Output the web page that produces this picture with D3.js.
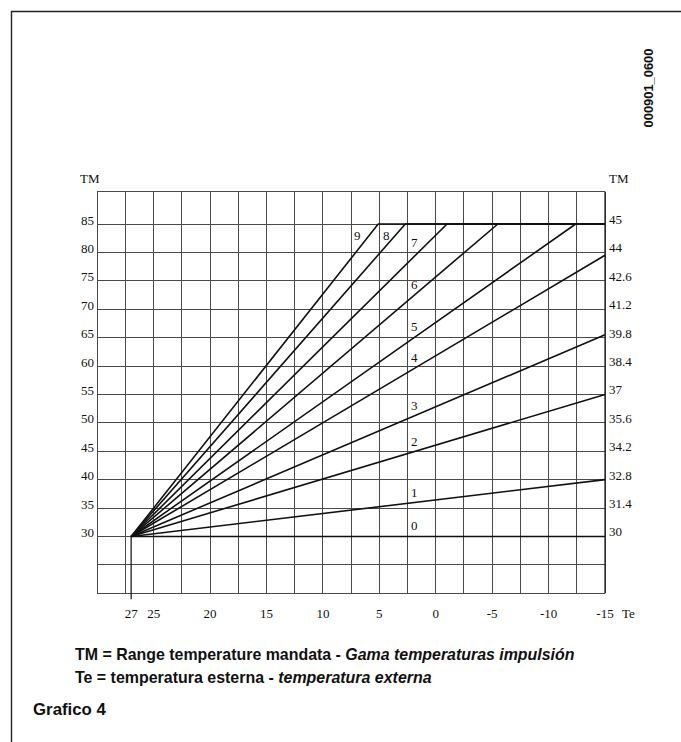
<!DOCTYPE html>
<html>
<head>
<meta charset="utf-8">
<script src="https://cdn.jsdelivr.net/npm/d3@7"></script>
<style>
  html, body { margin: 0; padding: 0; background: #fff; }
  svg { display: block; }
</style>
</head>
<body>
<svg id="chart" width="681" height="742"></svg>
<script>
// Outside temperature ticks (bottom) and flow temperature ticks (left / right)
const teTicks = [27, 25, 20, 15, 10, 5, 0, -5, -10, -15];
const tmTicks = [85, 80, 75, 70, 65, 60, 55, 50, 45, 40, 35, 30];
const tmLowLabels = ["45", "44", "42.6", "41.2", "39.8", "38.4", "37", "35.6", "34.2", "32.8", "31.4", "30"];

// Heating curves: all start at (27, 30) and run to their end point,
// capped curves then follow the 85 line to the right edge.
const curveIds = [0, 1, 2, 3, 4, 5, 6, 7, 8, 9];
const curveEndTe = [-15, -15, -15, -15, -15, -12.4, -5.5, -1.0, 2.7, 5.1];
const curveEndTM = [30, 40, 55, 65.5, 79.5, 85, 85, 85, 85, 85];
const originTe = 27, originTM = 30, capTM = 85;

// Grid definition
const gridTe = d3.range(30, -15.1, -2.5);
const gridTM = d3.range(20, 85.1, 5);
const gridTopTM = 90.7;

const svg = d3.select("#chart");
const x = d3.scaleLinear().domain([30, -15]).range([97.3, 605]);
const y = d3.scaleLinear().domain([20, 85]).range([593.3, 224]);

const serif = "'Liberation Serif', 'Times New Roman', serif";
const sans = "'Liberation Sans', Arial, Helvetica, sans-serif";

// Page frame
svg.append("path")
  .attr("d", "M11.5,742 V11.5 H681")
  .attr("fill", "none").attr("stroke", "#222").attr("stroke-width", 1.4);

// Grid
const grid = svg.append("g").attr("stroke", "#4a4a4a").attr("stroke-width", 1).attr("shape-rendering", "crispEdges");
grid.selectAll("line.v").data(gridTe).join("line").attr("class", "v")
  .attr("x1", d => x(d)).attr("x2", d => x(d))
  .attr("y1", y(20)).attr("y2", y(gridTopTM));
grid.selectAll("line.h").data(gridTM.concat([gridTopTM])).join("line").attr("class", "h")
  .attr("x1", x(30)).attr("x2", x(-15))
  .attr("y1", d => y(d)).attr("y2", d => y(d));
// right edge slightly heavier
svg.append("line")
  .attr("x1", x(-15)).attr("x2", x(-15)).attr("y1", y(20)).attr("y2", y(gridTopTM))
  .attr("stroke", "#222").attr("stroke-width", 1.3);

// Vertical marker at the curve origin, extending below the grid
svg.append("line")
  .attr("x1", x(originTe)).attr("x2", x(originTe))
  .attr("y1", y(originTM)).attr("y2", y(20) + 6)
  .attr("stroke", "#111").attr("stroke-width", 1.2);

// Curves
const line = d3.line().x(d => x(d[0])).y(d => y(d[1]));
const curves = curveIds.map((id, i) => {
  const pts = [[originTe, originTM], [curveEndTe[i], curveEndTM[i]]];
  if (curveEndTM[i] >= capTM && curveEndTe[i] > -15) pts.push([-15, capTM]);
  return { id, pts, endTe: curveEndTe[i], endTM: curveEndTM[i] };
});
svg.append("g").selectAll("path").data(curves).join("path")
  .attr("d", d => line(d.pts))
  .attr("fill", "none").attr("stroke", "#111").attr("stroke-width", 1.6)
  .attr("stroke-linejoin", "round");

// Curve numbers
function tmAt(c, te) {
  return originTM + (c.endTM - originTM) * (originTe - te) / (originTe - c.endTe);
}
function teAt(c, tm) {
  return originTe - (tm - originTM) * (originTe - c.endTe) / (c.endTM - originTM);
}
const labelTe = 1.9;
const labels = svg.append("g").attr("font-family", serif).attr("font-size", 13).attr("fill", "#111");
curves.forEach(c => {
  let lx, ly;
  if (c.id <= 7) {
    lx = x(labelTe);
    ly = y(tmAt(c, labelTe)) - 6;
    if (c.id === 7) ly -= 3;
  } else {
    lx = x(teAt(c, 83)) - (c.id === 9 ? 12 : 9);
    ly = y(83) + 4.5;
  }
  labels.append("text").attr("x", lx).attr("y", ly).attr("text-anchor", "middle").text(c.id);
});

// Left axis labels
const axisText = svg.append("g").attr("font-family", serif).attr("font-size", 13).attr("fill", "#111");
axisText.selectAll("text.l").data(tmTicks).join("text").attr("class", "l")
  .attr("x", 94).attr("y", d => y(d) + 0.5).attr("text-anchor", "end").text(d => d);
axisText.append("text").attr("x", 80).attr("y", 183).text("TM");

// Right axis labels
axisText.selectAll("text.r").data(tmTicks).join("text").attr("class", "r")
  .attr("x", 609).attr("y", d => y(d)).text((d, i) => tmLowLabels[i]);
axisText.append("text").attr("x", 609).attr("y", 183).text("TM");

// Bottom axis labels
axisText.selectAll("text.b").data(teTicks).join("text").attr("class", "b")
  .attr("x", d => x(d)).attr("y", 618).attr("text-anchor", "middle").text(d => d);
axisText.append("text").attr("x", 622).attr("y", 618).text("Te");

// Text helper: squeeze/stretch horizontally to a target width
function fitWidth(sel, x0, y0, target) {
  const w = sel.node().getComputedTextLength();
  const s = target / w;
  sel.attr("x", 0).attr("y", 0)
    .attr("transform", `translate(${x0},${y0}) scale(${s},1)`);
}

// Drawing code (rotated)
const code = svg.append("text")
  .attr("font-family", sans).attr("font-weight", "bold").attr("font-size", 12)
  .attr("fill", "#111").attr("text-anchor", "middle").text("000901_0600");
{
  const w = code.node().getComputedTextLength();
  code.attr("transform", `translate(653,88) rotate(-90) scale(${79 / w},1)`);
}

// Legend
const leg1 = svg.append("text").attr("font-family", sans).attr("font-weight", "bold")
  .attr("font-size", 16).attr("fill", "#111");
leg1.append("tspan").text("TM = Range temperature mandata - ");
leg1.append("tspan").attr("font-style", "italic").text("Gama temperaturas impulsión");
fitWidth(leg1, 75, 660, 500);

const leg2 = svg.append("text").attr("font-family", sans).attr("font-weight", "bold")
  .attr("font-size", 16).attr("fill", "#111");
leg2.append("tspan").text("Te = temperatura esterna - ");
leg2.append("tspan").attr("font-style", "italic").text("temperatura externa");
fitWidth(leg2, 75, 683, 357);

const title = svg.append("text").attr("font-family", sans).attr("font-weight", "bold")
  .attr("font-size", 16).attr("fill", "#111").text("Grafico 4");
fitWidth(title, 33, 715, 73);
</script>
</body>
</html>
